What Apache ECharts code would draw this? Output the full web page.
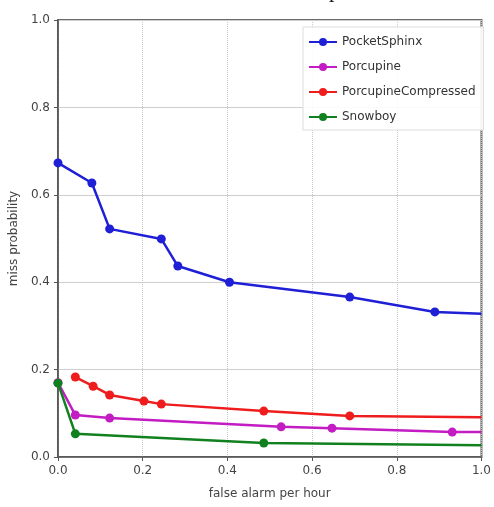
<!DOCTYPE html>
<html>
<head>
<meta charset="utf-8">
<script src="https://cdn.jsdelivr.net/npm/echarts@6/dist/echarts.min.js"></script>
<style>
html, body { margin: 0; padding: 0; background: #fff; }
#root { width: 494px; height: 507px; }
</style>
</head>
<body>
<div id="root"></div>
<script>
var seriesNames = ['PocketSphinx', 'Porcupine', 'PorcupineCompressed', 'Snowboy'];
var seriesColors = ['#1f1fd6', '#c21cc2', '#ee1c1c', '#11801f'];

var pocketX = [0.0, 0.08, 0.122, 0.244, 0.283, 0.405, 0.689, 0.89, 1.0];
var pocketY = [0.673, 0.627, 0.522, 0.499, 0.437, 0.400, 0.366, 0.332, 0.328];

var porcX = [0.0, 0.041, 0.122, 0.527, 0.647, 0.931, 1.0];
var porcY = [0.170, 0.096, 0.089, 0.069, 0.066, 0.057, 0.057];

var compX = [0.041, 0.083, 0.122, 0.203, 0.244, 0.486, 0.689, 1.0];
var compY = [0.183, 0.162, 0.142, 0.128, 0.121, 0.105, 0.094, 0.091];

var snowX = [0.0, 0.041, 0.486, 1.0];
var snowY = [0.169, 0.053, 0.032, 0.027];

function pairs(xs, ys) {
	// last point only marks where the line leaves the frame, no marker there
	return xs.map(function (x, i) {
		var p = { value: [x, ys[i]] };
		if (i === xs.length - 1 && x >= 1.0) {
			p.symbol = 'none';
		}
		return p;
	});
}

var allX = [pocketX, porcX, compX, snowX];
var allY = [pocketY, porcY, compY, snowY];

var chart = echarts.init(document.getElementById('root'));

var axisCommon = {
	type: 'value',
	min: 0,
	max: 1,
	interval: 0.2,
	nameLocation: 'middle',
	nameTextStyle: { color: '#444', fontSize: 12, fontFamily: 'DejaVu Sans' },
	axisLine: { show: true, lineStyle: { color: '#555', width: 1.5 } },
	axisTick: { show: true, inside: false, length: 4, lineStyle: { color: '#555' } },
	axisLabel: {
		color: '#444',
		fontSize: 12,
		fontFamily: 'DejaVu Sans',
		formatter: function (v) { return v.toFixed(1); }
	}
};

var option = {
	animation: false,
	backgroundColor: '#fff',
	grid: {
		left: 57, right: 3, top: 20, bottom: 50,
		show: true, borderColor: '#6a6a6a', borderWidth: 2
	},
	graphic: [{
		// tail of a caption letter cut by the top edge
		type: 'text',
		left: 329, top: -20,
		style: { text: 'p', font: '22px "Liberation Serif"', fill: '#111' }
	}],
	legend: {
		data: seriesNames,
		orient: 'vertical',
		left: 303, top: 27,
		padding: [9, 8, 7, 5],
		itemGap: 13,
		itemWidth: 28, itemHeight: 10,
		borderColor: '#ddd', borderWidth: 1,
		backgroundColor: 'rgba(255,255,255,0.9)',
		textStyle: { color: '#333', fontSize: 12, fontFamily: 'DejaVu Sans' }
	},
	xAxis: Object.assign({}, axisCommon, {
		name: 'false alarm per hour',
		nameGap: 31,
		splitLine: { show: true, lineStyle: { color: '#c8c8c8', type: 'dotted', width: 1 } }
	}),
	yAxis: Object.assign({}, axisCommon, {
		name: 'miss probability',
		nameGap: 35,
		splitLine: { show: true, lineStyle: { color: '#cfcfcf', type: 'solid', width: 1 } }
	}),
	series: seriesNames.map(function (name, i) {
		return {
			name: name,
			type: 'line',
			data: pairs(allX[i], allY[i]),
			symbol: 'circle',
			symbolSize: 9,
			showSymbol: true,
			clip: true,
			color: seriesColors[i],
			lineStyle: { width: 2.5, color: seriesColors[i] },
			itemStyle: { color: seriesColors[i] },
			z: 2 + i
		};
	})
};

chart.setOption(option);
</script>
</body>
</html>
